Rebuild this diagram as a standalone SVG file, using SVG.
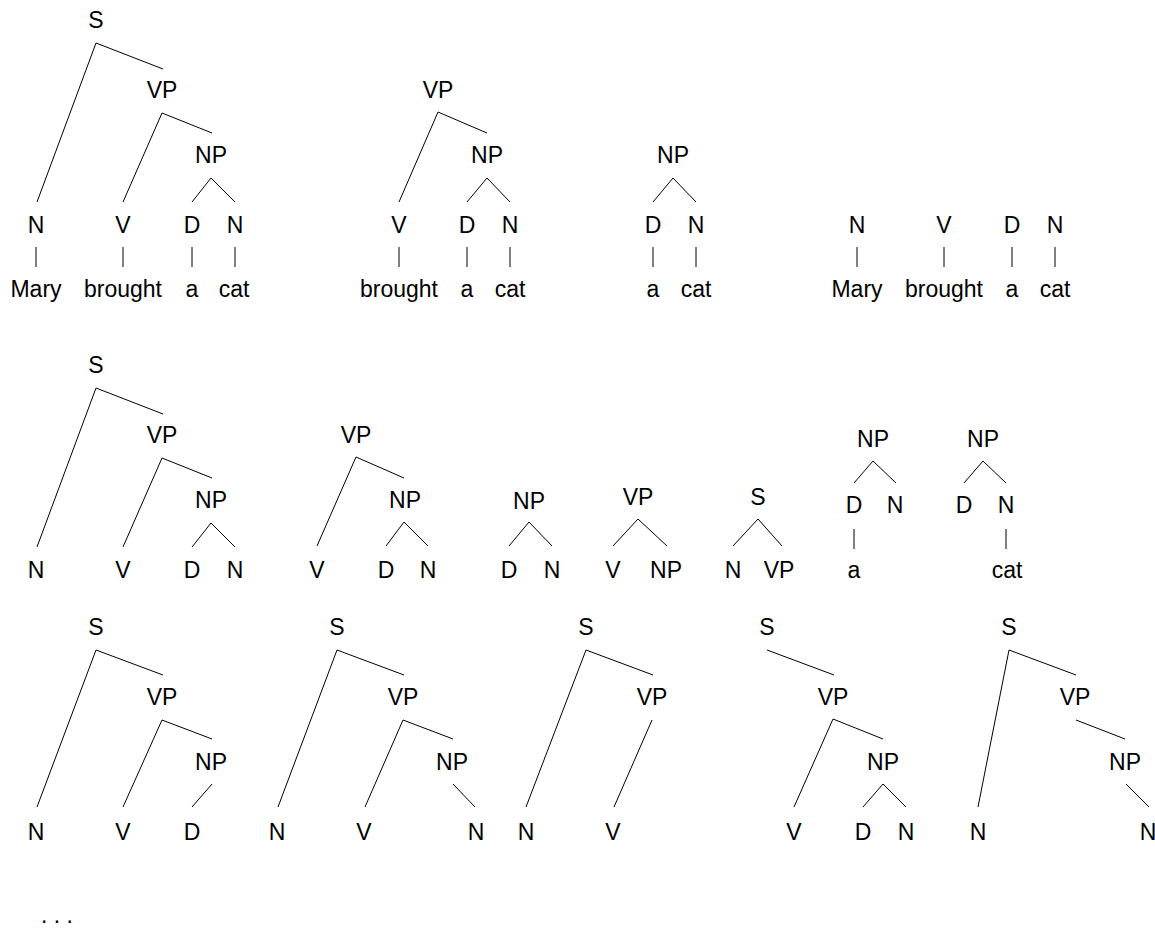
<svg xmlns="http://www.w3.org/2000/svg" width="1155" height="928" viewBox="0 0 1155 928">
<style>
text{font-family:"Liberation Sans",Arial,sans-serif;font-size:23px;fill:#000;text-anchor:middle}
.c line{stroke:#000;stroke-width:1}
</style>
<rect width="1155" height="928" fill="#fff"/>
<g id="connectors" class="c">
<!-- row 1 tree 1 -->
<line x1="96" y1="43" x2="37" y2="202"/><line x1="96" y1="43" x2="163" y2="69"/>
<line x1="162" y1="113" x2="123" y2="202"/><line x1="162" y1="113" x2="212" y2="133"/>
<line x1="211" y1="178" x2="192" y2="202"/><line x1="211" y1="178" x2="235" y2="202"/>
<line x1="36" y1="247" x2="36" y2="267"/><line x1="123" y1="247" x2="123" y2="267"/><line x1="192" y1="247" x2="192" y2="267"/><line x1="235" y1="247" x2="235" y2="267"/>
<!-- row 1 tree 2 -->
<line x1="438" y1="112" x2="399" y2="202"/><line x1="438" y1="112" x2="487" y2="133"/>
<line x1="487" y1="178" x2="467" y2="202"/><line x1="487" y1="178" x2="510" y2="202"/>
<line x1="399" y1="247" x2="399" y2="267"/><line x1="467" y1="247" x2="467" y2="267"/><line x1="510" y1="247" x2="510" y2="267"/>
<!-- row 1 tree 3 -->
<line x1="673" y1="178" x2="653" y2="202"/><line x1="673" y1="178" x2="696" y2="202"/>
<line x1="653" y1="247" x2="653" y2="267"/><line x1="696" y1="247" x2="696" y2="267"/>
<!-- row 1 tree 4 -->
<line x1="857" y1="247" x2="857" y2="267"/><line x1="944" y1="247" x2="944" y2="267"/><line x1="1012" y1="247" x2="1012" y2="267"/><line x1="1055" y1="247" x2="1055" y2="267"/>
<!-- row 2 tree 5 -->
<line x1="96" y1="388" x2="37" y2="547"/><line x1="96" y1="388" x2="163" y2="414"/>
<line x1="162" y1="458" x2="123" y2="547"/><line x1="162" y1="458" x2="212" y2="478"/>
<line x1="211" y1="523" x2="192" y2="547"/><line x1="211" y1="523" x2="235" y2="547"/>
<!-- row 2 tree 6 -->
<line x1="356" y1="457" x2="317" y2="546"/><line x1="356" y1="457" x2="404" y2="478"/>
<line x1="404" y1="522" x2="386" y2="546"/><line x1="404" y1="522" x2="428" y2="546"/>
<!-- row 2 tree 7 -->
<line x1="529" y1="522" x2="509" y2="546"/><line x1="529" y1="522" x2="552" y2="546"/>
<!-- row 2 tree 8 -->
<line x1="638" y1="519" x2="613" y2="546"/><line x1="638" y1="519" x2="667" y2="546"/>
<!-- row 2 tree 9 -->
<line x1="758" y1="519" x2="733" y2="546"/><line x1="758" y1="519" x2="782" y2="546"/>
<!-- row 2 tree 10 -->
<line x1="873" y1="461" x2="854" y2="483"/><line x1="873" y1="461" x2="896" y2="483"/>
<line x1="854" y1="529" x2="854" y2="549"/>
<!-- row 2 tree 11 -->
<line x1="983" y1="461" x2="964" y2="483"/><line x1="983" y1="461" x2="1006" y2="483"/>
<line x1="1006" y1="529" x2="1006" y2="549"/>
<!-- row 3 tree 12 -->
<line x1="96" y1="650" x2="37" y2="807"/><line x1="96" y1="650" x2="163" y2="675"/>
<line x1="162" y1="720" x2="123" y2="807"/><line x1="162" y1="720" x2="212" y2="739"/>
<line x1="212" y1="784" x2="192" y2="807"/>
<!-- row 3 tree 13 -->
<line x1="337" y1="650" x2="278" y2="807"/><line x1="337" y1="650" x2="404" y2="675"/>
<line x1="403" y1="720" x2="365" y2="807"/><line x1="403" y1="720" x2="453" y2="739"/>
<line x1="453" y1="784" x2="475" y2="807"/>
<!-- row 3 tree 14 -->
<line x1="586" y1="650" x2="526" y2="807"/><line x1="586" y1="650" x2="653" y2="675"/>
<line x1="652" y1="720" x2="614" y2="807"/>
<!-- row 3 tree 15 -->
<line x1="767" y1="650" x2="834" y2="675"/>
<line x1="833" y1="719" x2="794" y2="807"/><line x1="833" y1="719" x2="883" y2="739"/>
<line x1="883" y1="784" x2="863" y2="807"/><line x1="883" y1="784" x2="906" y2="807"/>
<!-- row 3 tree 16 -->
<line x1="1009" y1="650" x2="978" y2="807"/><line x1="1009" y1="650" x2="1076" y2="675"/>
<line x1="1076" y1="720" x2="1125" y2="739"/>
<line x1="1126" y1="784" x2="1149" y2="807"/>
</g>
<!-- row 1 tree 1 -->
<g id="t1-S"><text x="96" y="28">S</text></g>
<g id="t1-VP"><text x="162" y="98">VP</text></g>
<g id="t1-NP"><text x="211" y="163">NP</text></g>
<g id="t1-N1"><text x="36" y="233">N</text></g>
<g id="t1-V"><text x="123" y="233">V</text></g>
<g id="t1-D"><text x="192" y="233">D</text></g>
<g id="t1-N2"><text x="235" y="233">N</text></g>
<g id="t1-Mary"><text x="36" y="297">Mary</text></g>
<g id="t1-brought"><text x="123" y="297">brought</text></g>
<g id="t1-a"><text x="192" y="297">a</text></g>
<g id="t1-cat"><text x="234" y="297">cat</text></g>
<!-- row 1 tree 2 -->
<g id="t2-VP"><text x="438" y="98">VP</text></g>
<g id="t2-NP"><text x="487" y="163">NP</text></g>
<g id="t2-V"><text x="399" y="233">V</text></g>
<g id="t2-D"><text x="467" y="233">D</text></g>
<g id="t2-N"><text x="510" y="233">N</text></g>
<g id="t2-brought"><text x="399" y="297">brought</text></g>
<g id="t2-a"><text x="467" y="297">a</text></g>
<g id="t2-cat"><text x="510" y="297">cat</text></g>
<!-- row 1 tree 3 -->
<g id="t3-NP"><text x="673" y="163">NP</text></g>
<g id="t3-D"><text x="653" y="233">D</text></g>
<g id="t3-N"><text x="696" y="233">N</text></g>
<g id="t3-a"><text x="653" y="297">a</text></g>
<g id="t3-cat"><text x="696" y="297">cat</text></g>
<!-- row 1 tree 4 -->
<g id="t4-N1"><text x="857" y="233">N</text></g>
<g id="t4-V"><text x="944" y="233">V</text></g>
<g id="t4-D"><text x="1012" y="233">D</text></g>
<g id="t4-N2"><text x="1055" y="233">N</text></g>
<g id="t4-Mary"><text x="857" y="297">Mary</text></g>
<g id="t4-brought"><text x="944" y="297">brought</text></g>
<g id="t4-a"><text x="1012" y="297">a</text></g>
<g id="t4-cat"><text x="1055" y="297">cat</text></g>
<!-- row 2 tree 5 -->
<g id="t5-S"><text x="96" y="373">S</text></g>
<g id="t5-VP"><text x="162" y="443">VP</text></g>
<g id="t5-NP"><text x="211" y="508">NP</text></g>
<g id="t5-N1"><text x="36" y="578">N</text></g>
<g id="t5-V"><text x="123" y="578">V</text></g>
<g id="t5-D"><text x="192" y="578">D</text></g>
<g id="t5-N2"><text x="235" y="578">N</text></g>
<!-- row 2 tree 6 -->
<g id="t6-VP"><text x="356" y="443">VP</text></g>
<g id="t6-NP"><text x="405" y="508">NP</text></g>
<g id="t6-V"><text x="317" y="578">V</text></g>
<g id="t6-D"><text x="386" y="578">D</text></g>
<g id="t6-N"><text x="428" y="578">N</text></g>
<!-- row 2 tree 7 -->
<g id="t7-NP"><text x="529" y="509">NP</text></g>
<g id="t7-D"><text x="509" y="578">D</text></g>
<g id="t7-N"><text x="552" y="578">N</text></g>
<!-- row 2 tree 8 -->
<g id="t8-VP"><text x="638" y="505">VP</text></g>
<g id="t8-V"><text x="613" y="578">V</text></g>
<g id="t8-NP"><text x="666" y="578">NP</text></g>
<!-- row 2 tree 9 -->
<g id="t9-S"><text x="758" y="505">S</text></g>
<g id="t9-N"><text x="733" y="578">N</text></g>
<g id="t9-VP"><text x="779" y="578">VP</text></g>
<!-- row 2 tree 10 -->
<g id="t10-NP"><text x="873" y="447">NP</text></g>
<g id="t10-D"><text x="854" y="513">D</text></g>
<g id="t10-N"><text x="895" y="513">N</text></g>
<g id="t10-a"><text x="854" y="578">a</text></g>
<!-- row 2 tree 11 -->
<g id="t11-NP"><text x="983" y="447">NP</text></g>
<g id="t11-D"><text x="964" y="513">D</text></g>
<g id="t11-N"><text x="1006" y="513">N</text></g>
<g id="t11-cat"><text x="1007" y="578">cat</text></g>
<!-- row 3 tree 12 -->
<g id="t12-S"><text x="96" y="635">S</text></g>
<g id="t12-VP"><text x="162" y="705">VP</text></g>
<g id="t12-NP"><text x="211" y="770">NP</text></g>
<g id="t12-N"><text x="36" y="840">N</text></g>
<g id="t12-V"><text x="123" y="840">V</text></g>
<g id="t12-D"><text x="192" y="840">D</text></g>
<!-- row 3 tree 13 -->
<g id="t13-S"><text x="337" y="635">S</text></g>
<g id="t13-VP"><text x="403" y="705">VP</text></g>
<g id="t13-NP"><text x="452" y="770">NP</text></g>
<g id="t13-N1"><text x="277" y="840">N</text></g>
<g id="t13-V"><text x="364" y="840">V</text></g>
<g id="t13-N2"><text x="476" y="840">N</text></g>
<!-- row 3 tree 14 -->
<g id="t14-S"><text x="586" y="635">S</text></g>
<g id="t14-VP"><text x="652" y="705">VP</text></g>
<g id="t14-N"><text x="526" y="840">N</text></g>
<g id="t14-V"><text x="613" y="840">V</text></g>
<!-- row 3 tree 15 -->
<g id="t15-S"><text x="767" y="635">S</text></g>
<g id="t15-VP"><text x="833" y="705">VP</text></g>
<g id="t15-NP"><text x="883" y="770">NP</text></g>
<g id="t15-V"><text x="794" y="840">V</text></g>
<g id="t15-D"><text x="863" y="840">D</text></g>
<g id="t15-N"><text x="906" y="840">N</text></g>
<!-- row 3 tree 16 -->
<g id="t16-S"><text x="1009" y="635">S</text></g>
<g id="t16-VP"><text x="1075" y="705">VP</text></g>
<g id="t16-NP"><text x="1125" y="770">NP</text></g>
<g id="t16-N1"><text x="978" y="840">N</text></g>
<g id="t16-N2"><text x="1148" y="840">N</text></g>
<!-- ellipsis -->
<g id="ellipsis"><text x="57" y="923">. . .</text></g>
</svg>
